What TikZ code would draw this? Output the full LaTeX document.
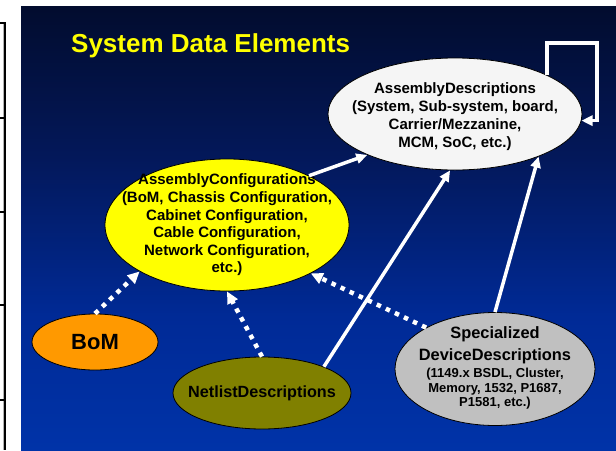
\documentclass[tikz,border=0pt]{standalone}
\usepackage{fontspec}
\setmainfont{Liberation Sans}
\usetikzlibrary{shapes.geometric,arrows.meta}
\definecolor{bgtop}{RGB}{2,12,46}
\definecolor{bgmidA}{RGB}{3,24,90}
\definecolor{bgmidB}{RGB}{0,42,150}
\definecolor{bgbot}{RGB}{0,51,168}
\definecolor{adfill}{RGB}{245,245,245}
\definecolor{cfgfill}{RGB}{255,255,0}
\definecolor{bomfill}{RGB}{255,153,0}
\definecolor{nlfill}{RGB}{128,128,0}
\definecolor{sdfill}{RGB}{192,192,192}
\definecolor{titlecol}{RGB}{255,255,0}
\pgfdeclareverticalshading{bgshade}{100bp}{color(0bp)=(bgbot); color(25bp)=(bgbot); color(40bp)=(bgmidB); color(58bp)=(bgmidA); color(75bp)=(bgtop); color(100bp)=(bgtop)}
\tikzset{
  blob/.style={ellipse, draw=black, line width=0.8pt, inner sep=0pt},
  lbl/.style={align=center, inner sep=0pt, font=\bfseries},
  sol/.style={draw=white, line width=3.5pt, line join=miter, -{Triangle[length=11pt,width=10pt]}},
  dots/.style={draw=white, line width=4.5pt, dash pattern=on 4.5pt off 5.5pt, -{Triangle[length=12pt,width=11pt]}},
}
\begin{document}
\begin{tikzpicture}[x=1pt,y=-1pt]
\useasboundingbox (0,0) rectangle (616,450);
\fill[white] (0,0) rectangle (616,450);
% left table fragment
\draw[gray!60, line width=0.8pt] (3,23) -- (3,450);
\draw[black, line width=2pt] (5,22) -- (5,450);
\foreach \yy in {23,118,212,305,400} \draw[black, line width=2pt] (0,\yy) -- (5,\yy);
% background
\shade[shading=bgshade] (21,6) rectangle (616,450);
% title
\node[anchor=base west, inner sep=0pt, text=titlecol, font=\bfseries\fontsize{26}{30}\selectfont] (title) at (71,52) {System Data Elements};
% ellipses
\node[blob, fill=adfill, minimum width=254pt, minimum height=112pt] (ad) at (455,114) {};
\node[blob, fill=cfgfill, minimum width=244pt, minimum height=132pt] (cfg) at (227,225) {};
\node[blob, fill=bomfill, minimum width=126pt, minimum height=56pt] (bom) at (95,342) {};
\node[blob, fill=nlfill, minimum width=178pt, minimum height=72pt] (nl) at (262,393) {};
\node[blob, fill=sdfill, minimum width=200pt, minimum height=113pt] (sd) at (495,369) {};
% labels
\node[lbl, font=\bfseries\fontsize{15}{18}\selectfont] (adt) at (455,117) {AssemblyDescriptions\\(System, Sub-system, board,\\Carrier/Mezzanine,\\MCM, SoC, etc.)};
\node[lbl, font=\bfseries\fontsize{15}{17.6}\selectfont] (cfgt) at (cfg) {AssemblyConfigurations\\(BoM, Chassis Configuration,\\Cabinet Configuration,\\Cable Configuration,\\Network Configuration,\\etc.)};
\node[lbl, font=\bfseries\fontsize{22}{26}\selectfont] (bomt) at (bom) {BoM};
\node[lbl, font=\bfseries\fontsize{16.2}{19}\selectfont] (nlt) at (nl) {NetlistDescriptions};
\node[lbl, font=\bfseries\fontsize{16.4}{22}\selectfont] (sdt) at (495,345) {Specialized\\DeviceDescriptions};
\node[lbl, font=\bfseries\fontsize{13}{14.5}\selectfont] (sdd) at (495,389) {(1149.x BSDL, Cluster,\\Memory, 1532, P1687,\\P1581, etc.)};
% solid arrows
\draw[sol] (cfg.31) -- (ad.205);
\draw[sol] (nl.23) -- (ad.265);
\draw[sol] (sd.90) -- (ad.333);
\coordinate (lc) at (597,43);
\draw[sol] (ad.23) |- (lc) |- (ad.357);
% dotted arrows
\draw[dots] (bom.90) -- (cfg.208);
\draw[dots] (nl.90) -- (cfg.270);
\draw[dots] (sd.149) -- (cfg.330);
\end{tikzpicture}
\end{document}
